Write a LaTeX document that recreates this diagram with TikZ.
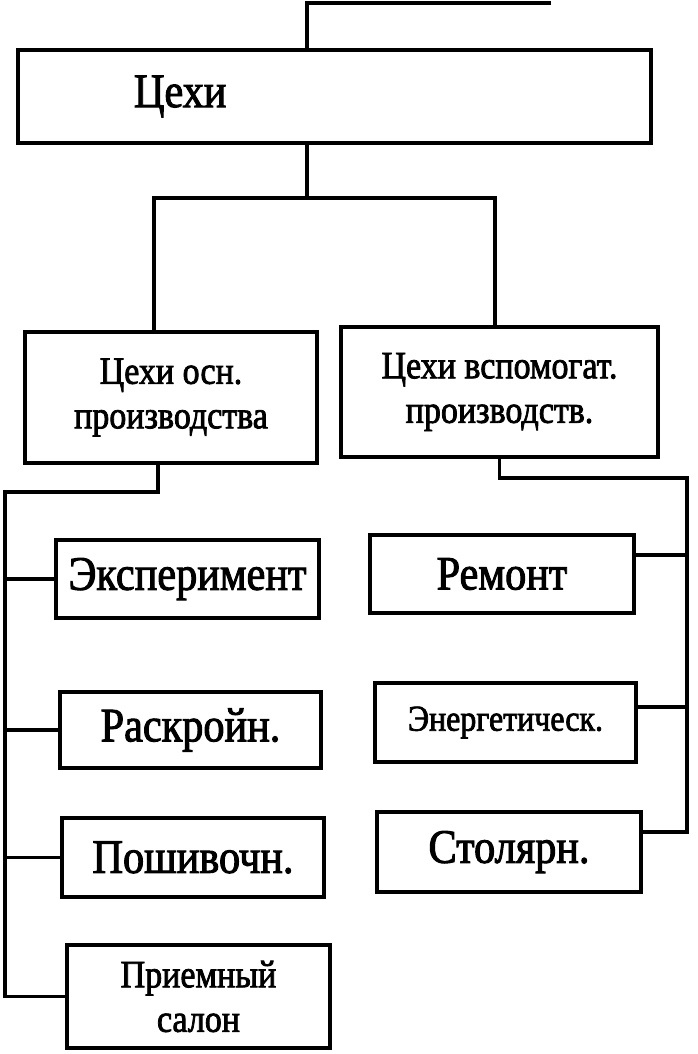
\documentclass[tikz,border=0pt]{standalone}
\usepackage{fontspec}
\setmainfont{Liberation Serif}[FakeStretch=0.88, FakeBold=2]

\begin{document}
\begin{tikzpicture}[x=0.03cm, y=-0.03cm,
        box/.style={draw, line width=3pt, inner sep=0pt, align=center},
        big/.style={font=\fontsize{41}{44}\selectfont},
        small/.style={font=\fontsize{33}{38}\selectfont},
        link/.style={line width=3pt}]
    \useasboundingbox (0,0) rectangle (698,1054);
    % top level
    \node[box, big, minimum height=2.79cm, text width=18.99cm, align=left] (ceh) at (334.5,96.5) {\hspace*{3.48cm}Цехи};
    \node[box, small, minimum width=8.76cm, minimum height=3.93cm] (osn) at (171,397.5) {Цехи осн.\\производства};
    \node[box, small, minimum width=9.51cm, minimum height=3.9cm] (vsp) at (499.5,392) {Цехи вспомогат.\\производств.};
    % main shops
    \node[box, big, minimum width=7.89cm, minimum height=2.34cm] (eksp) at (187.5,579) {Эксперимент};
    \node[box, big, minimum width=7.83cm, minimum height=2.28cm] (rask) at (190.5,730) {Раскройн.};
    \node[box, big, minimum width=7.86cm, minimum height=2.37cm] (posh) at (193,857.5) {Пошивочн.};
    \node[box, small, minimum width=7.89cm, minimum height=3.09cm] (priem) at (198.5,996.5) {Приемный\\салон};
    % auxiliary shops
    \node[box, small, font=\fontsize{41}{44}\selectfont, minimum width=7.92cm, minimum height=2.34cm] (rem) at (502,574) {Ремонт};
    \node[box, small, font=\fontsize{31}{36}\selectfont, minimum width=7.83cm, minimum height=2.37cm] (energ) at (505.5,722.5) {Энергетическ.};
    \node[box, big, minimum width=7.92cm, minimum height=2.4cm] (stol) at (509,852) {Столярн.};

    \coordinate (topend) at (551,3);
    \coordinate (fork) at (307,198);
    \coordinate (lbus) at (5,492);
    \coordinate (rbus) at (687,478);
    \draw[link] ([xshift=-0.825cm]ceh.north) |- (topend);
    \draw[link] ([xshift=-0.825cm]ceh.south) -- (fork);
    \draw[link] (fork) -| ([xshift=-0.51cm]osn.north);
    \draw[link] (fork) -| ([xshift=-0.135cm]vsp.north);
    % left bus
    \draw[link] ([xshift=-0.39cm]osn.south) |- (lbus) |- (priem.west);
    \foreach \b in {eksp,rask,posh}
        \draw[link] (lbus |- \b.west) -- (\b.west);
    % right bus
    \coordinate (stoltick) at ([yshift=0.6cm]stol.east);
    \coordinate (remtick) at ([yshift=0.57cm]rem.east);
    \coordinate (energtick) at ([yshift=0.47cm]energ.east);
    \draw[link] (vsp.south) |- (rbus) |- (stoltick);
    \draw[link] (remtick) -- (remtick -| rbus);
    \draw[link] (energtick) -- (energtick -| rbus);
\end{tikzpicture}
\end{document}
